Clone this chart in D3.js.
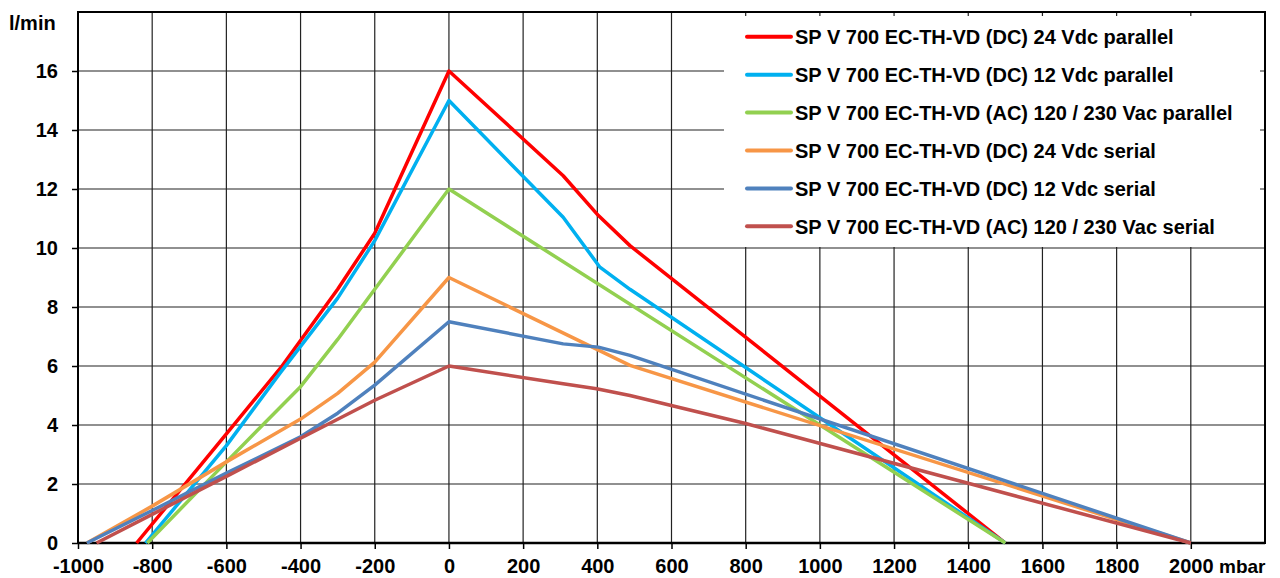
<!DOCTYPE html>
<html>
<head>
<meta charset="utf-8">
<script src="https://cdn.jsdelivr.net/npm/d3@7"></script>
<style>
    body { margin: 0; background: #fff; }
    svg { display: block; font-family: Arial, "Liberation Sans", sans-serif; }
</style>
</head>
<body>
<div id="chart"></div>
<script>
// pump curves, flow (l/min) vs pressure (mbar)
const seriesNames = [
    'SP V 700 EC-TH-VD (DC) 24 Vdc parallel',
    'SP V 700 EC-TH-VD (DC) 12 Vdc parallel',
    'SP V 700 EC-TH-VD (AC) 120 / 230 Vac parallel',
    'SP V 700 EC-TH-VD (DC) 24 Vdc serial',
    'SP V 700 EC-TH-VD (DC) 12 Vdc serial',
    'SP V 700 EC-TH-VD (AC) 120 / 230 Vac serial'
];
const seriesColors = ['#ff0000', '#00b0f0', '#92d050', '#f79646', '#4f81bd', '#c0504d'];

// [mbar, l/min]
const dc24Parallel = [[-842, 0], [-600, 3.7], [-450, 6.0], [-300, 8.6], [-200, 10.5], [0, 16], [308, 12.45], [403, 11.1], [488, 10.08], [1500, 0]];
const dc12Parallel = [[-818, 0], [-600, 3.3], [-456, 5.75], [-300, 8.3], [-200, 10.25], [0, 15], [308, 11.04], [407, 9.35], [488, 8.6], [1500, 0]];
const acParallel = [[-813, 0], [-600, 2.75], [-400, 5.3], [-300, 6.9], [-200, 8.6], [0, 12], [1500, 0]];
const dc24Serial = [[-976, 0], [-800, 1.25], [-600, 2.75], [-400, 4.2], [-300, 5.07], [-200, 6.13], [0, 9], [488, 6.02], [2000, 0]];
const dc12Serial = [[-976, 0], [-800, 1.1], [-600, 2.37], [-400, 3.6], [-300, 4.4], [-200, 5.35], [0, 7.5], [308, 6.75], [403, 6.64], [488, 6.36], [2000, 0]];
const acSerial = [[-950, 0], [-800, 0.97], [-600, 2.26], [-400, 3.55], [-200, 4.84], [0, 6], [308, 5.4], [398, 5.23], [488, 5.0], [800, 4.05], [2000, 0]];
const allSeries = [dc24Parallel, dc12Parallel, acParallel, dc24Serial, dc12Serial, acSerial];

const xTicks = d3.range(-1000, 2001, 200);
const yTicks = d3.range(0, 17, 2);

const width = 1280, height = 578;
const plotLeft = 78, plotRight = 1265, plotTop = 12, plotBottom = 543;

let svg = d3.select('#chart')
    .append('svg')
    .attr('width', width)
    .attr('height', height);

const x = d3.scaleLinear().domain([-1000, 2200]).range([plotLeft, plotRight]);
const y = d3.scaleLinear().domain([0, 18]).range([plotBottom, plotTop]);

// grid
svg.append('g')
    .selectAll('line')
    .data(xTicks.filter(d => d > -1000))
    .enter().append('line')
    .attr('x1', d => x(d)).attr('x2', d => x(d))
    .attr('y1', plotTop).attr('y2', plotBottom)
    .attr('stroke', '#222').attr('stroke-width', 1.2);
svg.append('g')
    .selectAll('line')
    .data(yTicks.filter(d => d > 0))
    .enter().append('line')
    .attr('x1', plotLeft).attr('x2', plotRight)
    .attr('y1', d => y(d)).attr('y2', d => y(d))
    .attr('stroke', '#222').attr('stroke-width', 1.2);

// legend box sits on top of the grid
svg.append('rect')
    .attr('x', 724).attr('y', 16)
    .attr('width', 536).attr('height', 231)
    .attr('fill', '#fff');

// axes (plain hyphen minus like the original)
const fmt = d => String(d);
let xAxis = svg.append('g')
    .attr('transform', `translate(0,${plotBottom})`)
    .call(d3.axisBottom(x).tickValues(xTicks).tickFormat(fmt).tickSize(6).tickSizeOuter(0).tickPadding(10));
let yAxis = svg.append('g')
    .attr('transform', `translate(${plotLeft},0)`)
    .call(d3.axisLeft(y).tickValues(yTicks).tickFormat(fmt).tickSize(6).tickSizeOuter(0).tickPadding(14));
[xAxis, yAxis].forEach(a => {
    a.select('.domain').remove();
    a.selectAll('line').attr('stroke', '#000').attr('stroke-width', 1.5);
    a.selectAll('text')
        .attr('fill', '#000')
        .style('font-size', '20px')
        .style('font-weight', 'bold')
        .style('font-family', 'Arial, "Liberation Sans", sans-serif');
});
xAxis.selectAll('text').attr('dy', '0.71em');

// frame
svg.append('rect')
    .attr('x', plotLeft).attr('y', plotTop)
    .attr('width', plotRight - plotLeft).attr('height', plotBottom - plotTop)
    .attr('fill', 'none').attr('stroke', '#000').attr('stroke-width', 2);
svg.append('line')
    .attr('x1', plotLeft).attr('x2', plotRight)
    .attr('y1', plotBottom).attr('y2', plotBottom)
    .attr('stroke', '#000').attr('stroke-width', 2.5);

// unit labels
svg.append('text')
    .attr('x', 9).attr('y', 30)
    .style('font-size', '20px').style('font-weight', 'bold')
    .text('l/min');
svg.append('text')
    .attr('x', 1219).attr('y', 573)
    .style('font-size', '19px').style('font-weight', 'bold')
    .text('mbar');

// curves
const line = d3.line().x(d => x(d[0])).y(d => y(d[1]));
svg.append('g')
    .selectAll('path')
    .data(allSeries)
    .enter().append('path')
    .attr('d', line)
    .attr('fill', 'none')
    .attr('stroke', (d, i) => seriesColors[i])
    .attr('stroke-width', 3.5)
    .attr('stroke-linejoin', 'round');

// legend
let legend = svg.append('g')
    .selectAll('g')
    .data(seriesNames)
    .enter().append('g')
    .attr('transform', (d, i) => `translate(747,${36.8 + i * 37.9})`);
legend.append('line')
    .attr('x1', 0).attr('x2', 44)
    .attr('stroke', (d, i) => seriesColors[i])
    .attr('stroke-width', 4)
    .attr('stroke-linecap', 'round');
legend.append('text')
    .attr('x', 48).attr('dy', '0.36em')
    .style('font-size', '20px').style('font-weight', 'bold')
    .text(d => d);
</script>
</body>
</html>
